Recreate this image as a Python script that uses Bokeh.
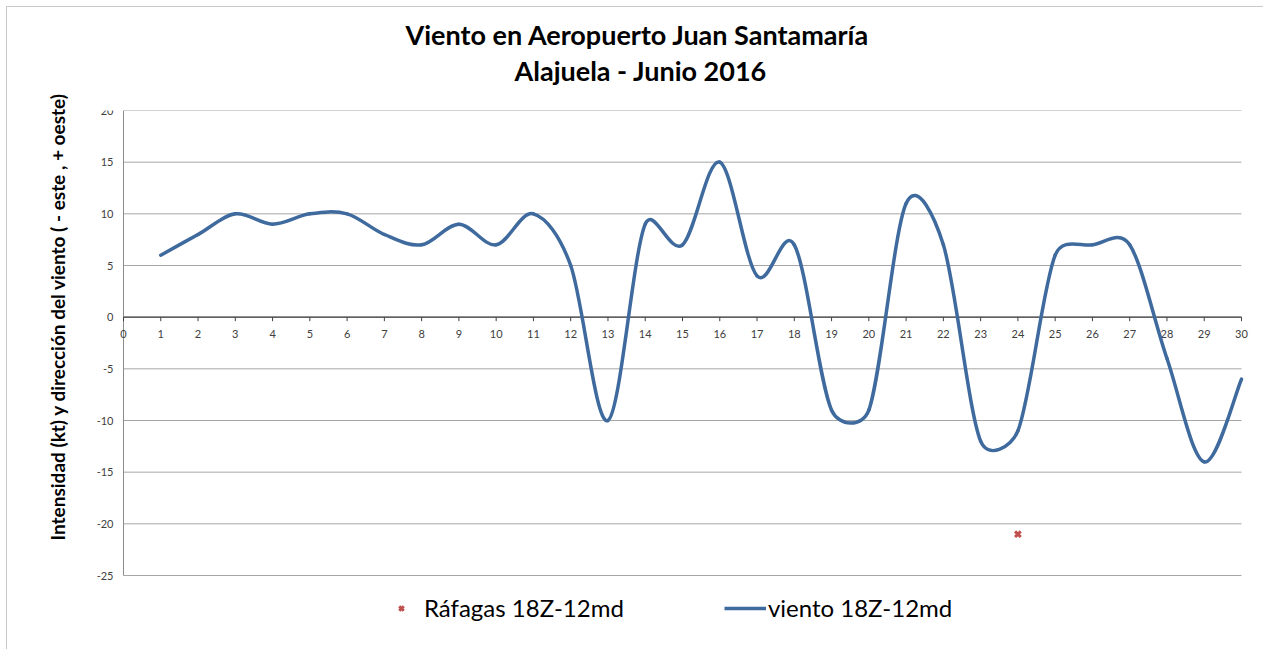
import math
import numpy as np
from bokeh.plotting import figure
from bokeh.models import (Title, Legend, LegendItem, ColumnDataSource, Range1d, LabelSet)
from bokeh.core.properties import value
from bokeh.embed import file_html
from bokeh.resources import INLINE

# ---------------- data ----------------
days = list(range(1, 31))
viento = [6, 8, 10, 9, 10, 10, 8, 7, 9, 7,
          10, 5, -10, 9, 7, 15, 4, 7, -9, -9,
          11, 7, -12, -11, 6, 7, 7, -4, -14, -6]
rafaga_days = [24]
rafaga_vals = [-21]
x_ticks = list(range(0, 31))
y_ticks = [-25, -20, -15, -10, -5, 0, 5, 10, 15, 20]

title1 = "Viento en Aeropuerto Juan Santamaría"
title2 = "Alajuela - Junio 2016"
ylabel = "Intensidad (kt) y dirección del viento ( - este , + oeste)"
lab_raf = "Ráfagas 18Z-12md"
lab_vie = "viento 18Z-12md"

FONT = "Lato"
PW, PH = 1118, 465            # size of the plotting area (axis box) in px
XMIN, XMAX = x_ticks[0], x_ticks[-1]
YMIN, YMAX = y_ticks[0], y_ticks[-1]
sx = PW / (XMAX - XMIN)
sy = PH / (YMAX - YMIN)
PAD_L, PAD_R, PAD_B = 43, 22, 74   # extra frame room for tick labels and legend

# Excel-like smoothed curve: cubic Bezier segments with control points from the data
xs = np.array(days, float)
ys = np.array(viento, float)
n = len(xs)
seg = dict(x0=[], y0=[], x1=[], y1=[], cx0=[], cy0=[], cx1=[], cy1=[])


def dist(a, b):
    return math.hypot((a[0] - b[0]) * sx, (a[1] - b[1]) * sy)


for i in range(n - 1):
    i0 = i - 1 if i > 0 else i
    i3 = i + 2 if i + 2 < n else i + 1
    P0 = (xs[i0], ys[i0]); P1 = (xs[i], ys[i])
    P2 = (xs[i + 1], ys[i + 1]); P3 = (xs[i3], ys[i3])
    d12 = dist(P1, P2); d02 = dist(P0, P2); d13 = dist(P1, P3)
    f0 = min(1 / 6, d12 / (2 * d02)) if d02 > 0 else 0
    f1 = min(1 / 6, d12 / (2 * d13)) if d13 > 0 else 0
    seg["x0"].append(P1[0]); seg["y0"].append(P1[1])
    seg["x1"].append(P2[0]); seg["y1"].append(P2[1])
    seg["cx0"].append(P1[0] + f0 * (P2[0] - P0[0]))
    seg["cy0"].append(P1[1] + f0 * (P2[1] - P0[1]))
    seg["cx1"].append(P2[0] - f1 * (P3[0] - P1[0]))
    seg["cy1"].append(P2[1] - f1 * (P3[1] - P1[1]))

LINE_COLOR = "#3F6A9E"
RED = "#C0504D"
GRID = "#A6A6A6"
TXT = "#404040"

p = figure(frame_width=PW + PAD_L + PAD_R, frame_height=PH + PAD_B,
           x_range=Range1d(XMIN - PAD_L / sx, XMAX + PAD_R / sx),
           y_range=Range1d(YMIN - PAD_B / sy, YMAX),
           output_backend="svg", toolbar_location=None,
           x_axis_location=None, y_axis_location=None,
           min_border_left=73, min_border_right=0,
           min_border_top=103, min_border_bottom=0,
           background_fill_color="white", border_fill_color="white",
           outline_line_color=None)
p.styles = {"margin-left": "6px", "margin-top": "6px",
            "border-left": "1px solid #c8c8c8", "border-top": "1px solid #c8c8c8"}
p.xgrid.grid_line_color = None
p.ygrid.grid_line_color = None

# horizontal gridlines and the value-axis line, limited to the axis box
p.segment(x0=[XMIN] * len(y_ticks), x1=[XMAX] * len(y_ticks), y0=y_ticks, y1=y_ticks,
          line_color=GRID, line_width=1, level="underlay")
p.segment(x0=[XMIN], x1=[XMIN], y0=[YMIN], y1=[YMAX],
          line_color="#8C8C8C", line_width=1, level="underlay")

# y tick labels
ylab_src = ColumnDataSource(dict(x=[XMIN] * len(y_ticks), y=y_ticks,
                                 t=[str(v) for v in y_ticks]))
p.add_layout(LabelSet(x="x", y="y", text="t", source=ylab_src, x_offset=-10,
                      text_align="right", text_baseline="middle",
                      text_font=value(FONT), text_font_size=value("11px"),
                      text_color=TXT))

# y axis title
p.add_layout(Title(text=ylabel, align="left", offset=35 + PAD_B, text_font=FONT,
                   text_font_size="19px", text_font_style="bold",
                   text_color="#000000", standoff=24), "left")

# horizontal axis crossing at y = 0: line, tick marks and labels
p.segment(x0=[XMIN], x1=[XMAX], y0=[0], y1=[0], line_color="#404040", line_width=1.3)
p.ray(x=x_ticks, y=[0] * len(x_ticks), length=4, length_units="screen",
      angle=-math.pi / 2, line_color="#404040", line_width=1)
xlab_src = ColumnDataSource(dict(x=x_ticks, y=[0] * len(x_ticks),
                                 t=[str(v) for v in x_ticks]))
p.add_layout(LabelSet(x="x", y="y", text="t", source=xlab_src, y_offset=-17,
                      text_align="center", text_baseline="middle",
                      text_font=value(FONT), text_font_size=value("11px"),
                      text_color=TXT))

src = ColumnDataSource(seg)
r_curve = p.bezier(x0="x0", y0="y0", x1="x1", y1="y1", cx0="cx0", cy0="cy0",
                   cx1="cx1", cy1="cy1", source=src, line_color=LINE_COLOR,
                   line_width=3.5, line_cap="round", level="overlay")
r_leg_line = p.line(x=[float("nan")], y=[float("nan")], line_color=LINE_COLOR,
                    line_width=3.5)
r_raf = p.scatter(x=rafaga_days, y=rafaga_vals, marker="x", size=8,
                  line_color=RED, line_width=3, level="overlay")

legend = Legend(items=[LegendItem(label=lab_raf, renderers=[r_raf]),
                       LegendItem(label=lab_vie, renderers=[r_leg_line])],
                orientation="horizontal", location=(300, PAD_B - 47),
                border_line_color=None, background_fill_alpha=0,
                label_text_font=FONT, label_text_font_size="24px",
                label_text_color="#000000",
                glyph_width=42, glyph_height=16, label_standoff=2,
                spacing=100, padding=0, margin=0)
p.add_layout(legend, "center")

# titles (spacer first, closest to the frame)
p.add_layout(Title(text=" ", text_font_size="20px", standoff=0), "above")
p.add_layout(Title(text=title2, align="left", offset=391 + PAD_L, text_font=FONT,
                   text_font_size="27px", text_font_style="bold",
                   text_color="#000000", standoff=0), "above")
p.add_layout(Title(text=title1, align="left", offset=282 + PAD_L, text_font=FONT,
                   text_font_size="27px", text_font_style="bold",
                   text_color="#000000", standoff=2), "above")

open("out.html", "w").write(file_html(p, INLINE))
